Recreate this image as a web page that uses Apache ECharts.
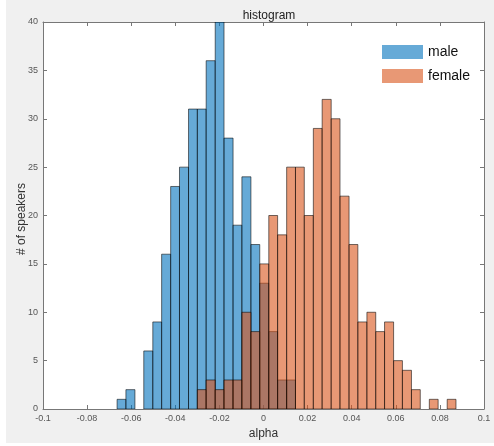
<!DOCTYPE html>
<html>
<head>
<meta charset="utf-8">
<script src="https://cdn.jsdelivr.net/npm/echarts@6/dist/echarts.min.js"></script>
<style>html,body{margin:0;padding:0;background:#fff}#c{width:494px;height:446px}</style>
</head>
<body>
<div id="c"></div>
<script>
// Bin edges (alpha), 38 bins
const binEdges = [-0.0664,-0.0624,-0.0583,-0.0543,-0.0502,-0.0462,-0.0421,-0.0381,-0.0340,-0.0300,
  -0.0260,-0.0219,-0.0179,-0.0138,-0.0098,-0.0057,-0.0017,0.0024,0.0064,0.0105,
  0.0145,0.0185,0.0226,0.0266,0.0307,0.0347,0.0388,0.0428,0.0469,0.0509,
  0.0549,0.0590,0.0630,0.0671,0.0711,0.0752,0.0792,0.0833,0.0873];
const maleCounts = [1,2,0,6,9,16,23,25,31,31,36,40,28,19,24,17,13,8,3,3,
  0,0,0,0,0,0,0,0,0,0,0,0,0,0,0,0,0,0];
const femaleCounts = [0,0,0,0,0,0,0,0,0,2,3,2,3,3,10,8,15,20,18,25,
  25,20,29,32,30,22,17,9,10,8,9,5,4,2,0,1,0,1];
const seriesNames = ['male','female'];
const xTicks = {min:-0.1, max:0.1, interval:0.02};
const yTicks = {min:0, max:40, interval:5};
const yTitle = '# of speakers';

function toData(counts){
  const out = [];
  for (let i = 0; i < counts.length; i++) {
    if (counts[i] > 0) out.push([binEdges[i], binEdges[i+1], counts[i]]);
  }
  return out;
}
function renderBin(params, api){
  const p0 = api.coord([api.value(0), api.value(2)]);
  const p1 = api.coord([api.value(1), 0]);
  return {
    type:'rect',
    shape:{x:p0[0], y:p0[1], width:p1[0]-p0[0], height:p1[1]-p0[1]},
    style:{fill: api.visual('color'), stroke:'rgba(0,0,0,0.55)', lineWidth:1}
  };
}
const FONT = 'Liberation Sans, Arial, sans-serif';
const axisCol = '#777';
const chart = echarts.init(document.getElementById('c'), null, {renderer:'canvas'});
chart.setOption({
  backgroundColor:'#fff',
  animation:false,
  textStyle:{fontFamily:FONT},
  graphic:[
    {type:'rect', z:-10, silent:true, shape:{x:6,y:0,width:488,height:443}, style:{fill:'#f0f0f0'}},
    {type:'text', x:22, y:219, rotation:Math.PI/2, silent:true,
     style:{text:yTitle, align:'center', verticalAlign:'middle', fontSize:12, fill:'#333', fontFamily:FONT}}
  ],
  title:{text:'histogram', left:264, top:5, textAlign:'center',
    textStyle:{fontSize:12, fontWeight:'normal', color:'#222', fontFamily:FONT}},
  legend:{data:seriesNames, orient:'vertical', left:377, top:40, itemWidth:41, itemHeight:14, itemGap:10,
    icon:'rect', textStyle:{fontSize:14, color:'#111', fontFamily:FONT}, backgroundColor:'rgba(0,0,0,0)'},
  grid:{left:43, right:10, top:22, bottom:37, show:true, backgroundColor:'#fff', borderWidth:0},
  xAxis:[
    {type:'value', min:xTicks.min, max:xTicks.max, interval:xTicks.interval, position:'bottom',
     axisLine:{show:true, onZero:false, lineStyle:{color:axisCol}},
     axisTick:{show:true, inside:true, length:4, lineStyle:{color:axisCol}},
     axisLabel:{fontSize:9, color:'#555', margin:5, fontFamily:FONT},
     splitLine:{show:false},
     name:'alpha', nameLocation:'middle', nameGap:16,
     nameTextStyle:{fontSize:12, color:'#333', fontFamily:FONT}},
    {type:'value', min:xTicks.min, max:xTicks.max, interval:xTicks.interval, position:'top',
     axisLine:{show:true, onZero:false, lineStyle:{color:axisCol}},
     axisTick:{show:true, inside:true, length:4, lineStyle:{color:axisCol}},
     axisLabel:{show:false}, splitLine:{show:false}}
  ],
  yAxis:[
    {type:'value', min:yTicks.min, max:yTicks.max, interval:yTicks.interval, position:'left',
     axisLine:{show:true, onZero:false, lineStyle:{color:axisCol}},
     axisTick:{show:true, inside:true, length:4, lineStyle:{color:axisCol}},
     axisLabel:{fontSize:9, color:'#555', margin:5, fontFamily:FONT},
     splitLine:{show:false}},
    {type:'value', min:yTicks.min, max:yTicks.max, interval:yTicks.interval, position:'right',
     axisLine:{show:true, onZero:false, lineStyle:{color:axisCol}},
     axisTick:{show:true, inside:true, length:4, lineStyle:{color:axisCol}},
     axisLabel:{show:false}, splitLine:{show:false}}
  ],
  series:[
    {name:seriesNames[0], type:'custom', renderItem:renderBin, xAxisIndex:0, yAxisIndex:0,
     encode:{x:[0,1], y:2}, itemStyle:{color:'rgba(0,114,189,0.6)'}, data:toData(maleCounts), clip:true},
    {name:seriesNames[1], type:'custom', renderItem:renderBin, xAxisIndex:0, yAxisIndex:0,
     encode:{x:[0,1], y:2}, itemStyle:{color:'rgba(217,83,25,0.6)'}, data:toData(femaleCounts), clip:true}
  ]
});
</script>
</body>
</html>
